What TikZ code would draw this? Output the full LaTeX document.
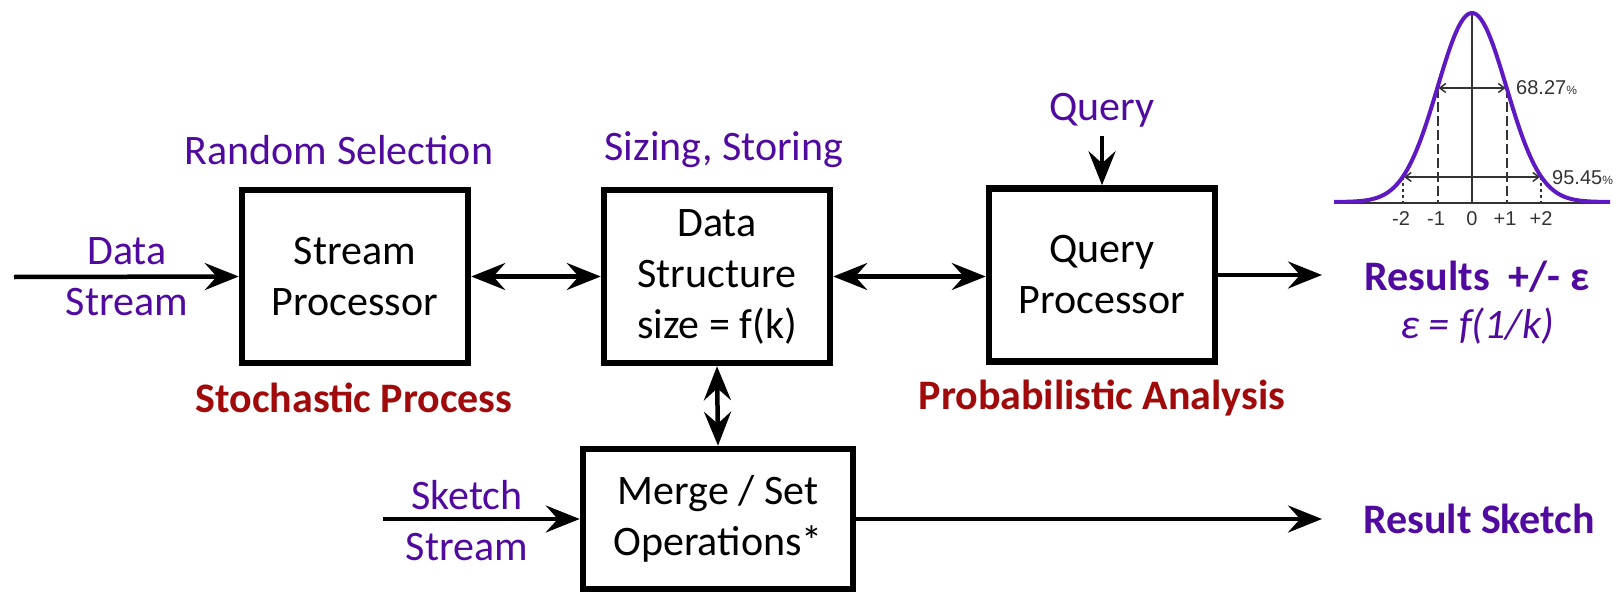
\documentclass[tikz,border=0pt]{standalone}
\usepackage{fontspec}
\setmainfont{Carlito}
\newfontfamily\arialfont{Liberation Sans}
\usetikzlibrary{arrows.meta}
\definecolor{labpurple}{RGB}{80,10,160}
\definecolor{labred}{RGB}{160,10,10}
\definecolor{curvepurple}{RGB}{95,25,195}
\begin{document}
\begin{tikzpicture}[x=1pt,y=-1pt,
  box/.style={draw=black, line width=6.5pt, minimum width=226pt, minimum height=173pt, inner sep=0pt, align=center, font=\fontsize{42}{51}\selectfont},
  lbl/.style={text=labpurple, align=center, font=\fontsize{42}{51}\selectfont, inner sep=0pt},
  boldlbl/.style={text=labpurple, font=\fontsize{42}{51}\selectfont\bfseries, inner sep=0pt},
  redlbl/.style={text=labred, font=\fontsize{42}{51}\selectfont\bfseries, inner sep=0pt},
  conn/.style={line width=4.5pt, -{Stealth[length=34pt,width=27pt,inset=12pt]}},
  dconn/.style={line width=4.5pt, {Stealth[length=34pt,width=27pt,inset=12pt]}-{Stealth[length=34pt,width=27pt,inset=12pt]}},
  small/.style={font=\arialfont\fontsize{20}{20}\selectfont, inner sep=0pt, text=black!80},
  smallarrow/.style={line width=1.5pt, {Straight Barb[length=6pt,width=9pt]}-{Straight Barb[length=6pt,width=9pt]}},
]
\useasboundingbox (0,0) rectangle (1617,594);

% main boxes
\node[box] (sp) at (355,276.5) {Stream\\Processor};
\node[box] (ds) at (717,276.5) {Data\\Structure\\size = f(k)};
\node[box] (qp) at (1102,275) {Query\\Processor};
\node[box, minimum width=270pt, minimum height=140pt] (mg) at (718,519) {Merge / Set\\Operations*};

% labels
\node[lbl] (datalbl) at (127,277) {Data\\Stream};
\node[lbl] (sketchlbl) at (467,521) {Sketch\\Stream};
\node[lbl] (rsel) at (339,150) {Random Selection};
\node[lbl] (size) at (724,150) {Sizing, Storing};
\node[lbl] (query) at (1102,110) {Query};
\node[redlbl] (stoch) at (354,398) {Stochastic Process};
\node[redlbl] (prob) at (1102,398) {Probabilistic Analysis};
\node[boldlbl] (res) at (1477,277) {Results\ \ +/- ε};
\node[lbl, font=\fontsize{42}{51}\selectfont\itshape] (eps) at (1477,326) {ε = f(1/k)};
\node[boldlbl] (rsk) at (1479,519) {Result Sketch};

% free ends
\coordinate (din) at (14,277);
\coordinate (sin) at (383,519);
\coordinate (qin) at (1102,136);
\coordinate (rout) at (1322,275);
\coordinate (mout) at (1322,519);

% connectors
\draw[conn] (din) -- (sp.west);
\draw[dconn] (sp.east) -- (ds.west);
\draw[dconn] (ds.east) -- (ds.east -| qp.west);
\draw[conn] (qin) -- (qp.north);
\draw[conn] (qp.east) -- (rout);
\draw[dconn] (ds.south) -- (mg.north);
\draw[conn] (sin) -- (mg.west);
\draw[conn] (mg.east) -- (mout);

% bell curve
\draw[line width=1.2pt, black!80] (1334,203) -- (1610,203);
\draw[line width=1.5pt, black!80] (1472,14) -- (1472,203);
\draw[line width=2pt, black!80, dash pattern=on 10pt off 4pt] (1437.5,88) -- (1437.5,203);
\draw[line width=2pt, black!80, dash pattern=on 10pt off 4pt] (1506.5,88) -- (1506.5,203);
\draw[line width=1.6pt, black!80, dash pattern=on 3pt off 3pt] (1403,177) -- (1403,203);
\draw[line width=1.6pt, black!80, dash pattern=on 3pt off 3pt] (1541,177) -- (1541,203);
\draw[smallarrow, black!80] (1438.5,88) -- (1505.5,88);
\draw[smallarrow, black!80] (1404,177) -- (1540,177);
\draw[curvepurple, line width=4pt] plot[domain=1334:1610, samples=140, smooth] (\x, {202-189*exp(-0.5*((\x-1472)/34.5)^2)});
\node[small, anchor=west] (p68) at (1516,88) {68.27{\fontsize{12}{12}\selectfont\%}};
\node[small, anchor=west] (p95) at (1552,178) {95.45{\fontsize{12}{12}\selectfont\%}};
\node[small] (tm2) at (1401,219) {-2};
\node[small] (tm1) at (1436,219) {-1};
\node[small] (t0) at (1472,219) {0};
\node[small] (tp1) at (1505,219) {+1};
\node[small] (tp2) at (1541,219) {+2};
\end{tikzpicture}
\end{document}
